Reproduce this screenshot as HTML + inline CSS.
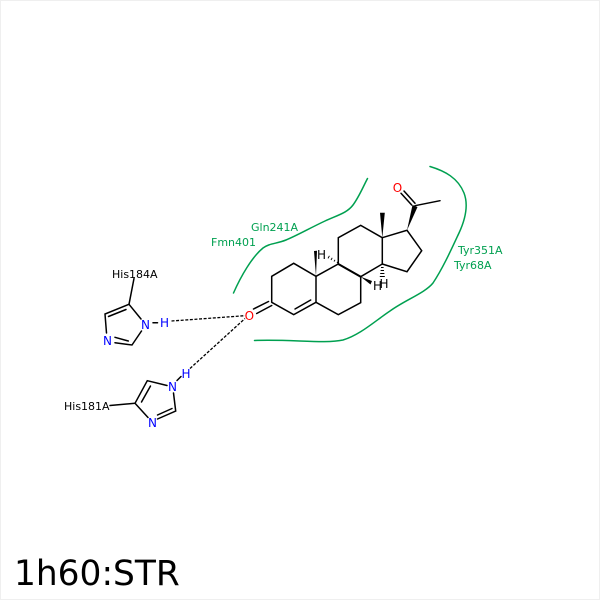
<!DOCTYPE html>
<html><head><meta charset="utf-8"><style>
html,body{margin:0;padding:0;background:#fff}
svg{display:block}
text{font-family:"DejaVu Sans",sans-serif}
</style></head><body>
<svg width="600" height="600" viewBox="0 0 600 600" xmlns="http://www.w3.org/2000/svg">
<rect x="0" y="0" width="600" height="600" fill="#fff"/>
<rect x="0.5" y="0.5" width="599" height="599" fill="none" stroke="#efefef" stroke-width="1"/>
<!-- green arcs -->
<g fill="none" stroke="#00a050" stroke-width="1.5" stroke-linecap="round">
<path d="M233.5 293 C241 276 252 257 263 248 C270 243 276 244 286 240 C298 235 310 228 325 221 C338 215 347 213 353 205 C359 197 363 187 367.5 178.5"/>
<path d="M430 166.5 C445 171 458 178 464 193 C469 206 465 220 459 233 C452 248 443 268 433 283 C425 293 405 300 390 311 C375 321 360 335 343 340 C325 344 290 339 254.5 340.5"/>
</g>
<!-- ligand bonds -->
<g fill="none" stroke="#000" stroke-width="1.5" stroke-linecap="round">
<path d="M271.7 302.3V276.3L293.7 263.3L316 276.3V302.3L293.7 314.7L271.7 302.3"/>
<path d="M295 309L310.7 300"/>
<path d="M316 276.3L338.3 264L360.7 276.7V302.7L338.3 314.7L316 302.3"/>
<path d="M338.3 264V237.7L360.7 225.3L382.3 237.7V264L360.7 276.7"/>
<path d="M338.3 264L360.7 276.7" stroke-width="2"/>
<path d="M382.3 237.7L407 230.3L421.7 250.7L407 271.7L382.3 264"/>
<path d="M415 205.7L440 200.7"/>
<path d="M404 191L415 203.3M401 193.3L411.7 205"/>
<path d="M271.7 305.5L256.7 313.5M268.5 301.5L253.5 309"/>
</g>
<!-- wedges -->
<g fill="#000" stroke="none">
<polygon points="316,276.3 314,251 317,250.7"/>
<polygon points="382.3,237.7 380,212.7 384.8,212.7"/>
<polygon points="407,230.3 412.5,205 417.5,207"/>
<polygon points="360.7,276.7 372,281 370.5,284.5"/>
</g>
<!-- hashed bonds -->
<g stroke="#000" stroke-width="0.9" fill="none">
<path d="M337 263L337.8 261.8M334 261.5L335 259.8M331 260L332.2 257.8M328 258.4L329.4 255.8"/>
<path d="M381 267.5H383.6M380.6 270.5H384M380.2 273.5H384.4M379.8 276.5H384.8"/>
</g>
<!-- His rings -->
<g fill="none" stroke="#000" stroke-width="1.5" stroke-linecap="round">
<path d="M129 304.3L134 278.5"/>
<path d="M129 304.3L141 319M129 304.3L105 314L106.5 333M141.5 331L132 345L115 342.7"/>
<path d="M126 309.5L108.5 316.5"/>
<path d="M128.3 341L115 337.3"/>
<path d="M153 322.8H157.5"/>
<path d="M135 403.3L147.3 380.7L167 385.5M135 403.3L148 417.5M157.5 419L175.7 411L173.5 393"/>
<path d="M141.5 402L150.5 386"/>
<path d="M172 408.5L157.5 415"/>
<path d="M135 403.3L110 405.5"/>
<path d="M177 380.5L181 376.5"/>
</g>
<!-- H bonds -->
<g fill="none" stroke="#000" stroke-width="1.3" stroke-dasharray="3 1.6">
<path d="M171.5 321L245 315.7"/>
<path d="M190 368.5L245 318.5"/>
</g>
<!-- atom labels -->
<g font-size="12" text-anchor="middle">
<text x="249.3" y="320" fill="#f00">O</text>
<text x="397.5" y="192" fill="#f00">O</text>
<text x="145.5" y="329" fill="#00f">N</text>
<text x="107.5" y="345" fill="#00f">N</text>
<text x="164.5" y="327" fill="#00f">H</text>
<text x="172.5" y="391" fill="#00f">N</text>
<text x="152.5" y="427" fill="#00f">N</text>
<text x="186" y="378" fill="#00f">H</text>
<text x="321.5" y="259" fill="#000">H</text>
<text x="377.5" y="290" fill="#000">H</text>
<text x="384" y="288" fill="#000">H</text>
</g>
<g font-size="11" fill="#000">
<text x="112" y="278">His184A</text>
<text x="64" y="410">His181A</text>
</g>
<g font-size="11" fill="#00a050">
<text x="251" y="231">Gln241A</text>
<text x="211" y="246">Fmn401</text>
<text x="458" y="254">Tyr351A</text>
<text x="454" y="269">Tyr68A</text>
</g>
<text x="14" y="585" font-size="34.4" fill="#000">1h60:STR</text>
</svg>
</body></html>
